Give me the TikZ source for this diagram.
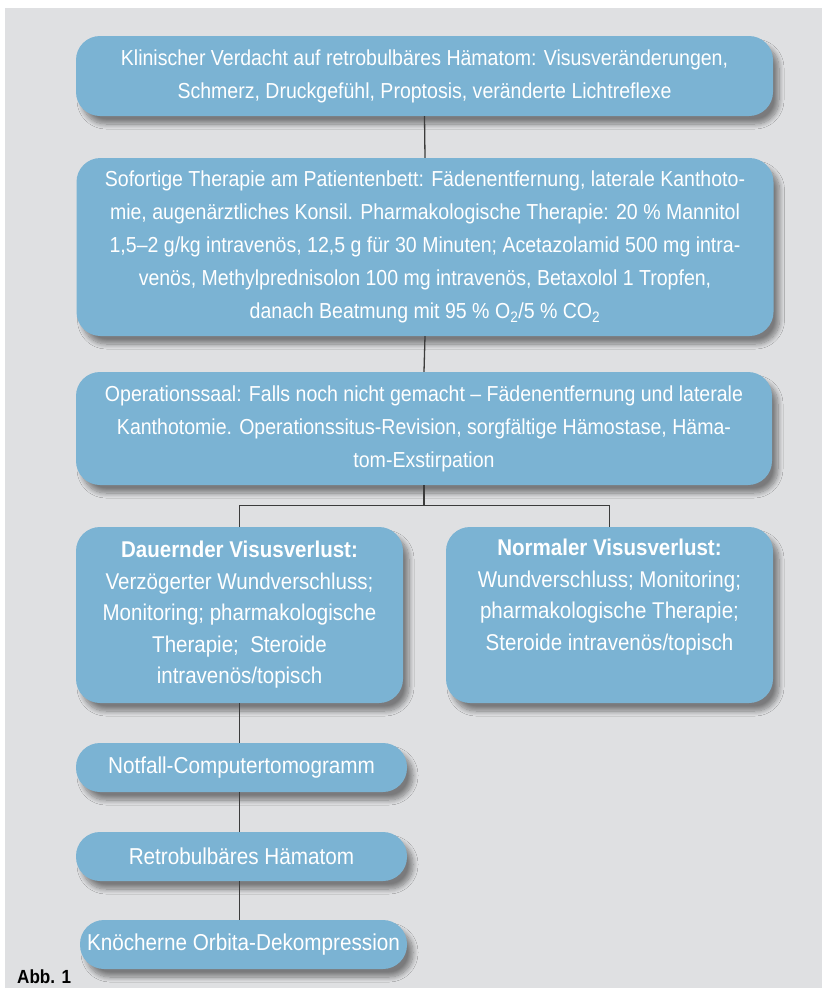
\documentclass[tikz,border=0pt]{standalone}
\usepackage{fontspec}
\setmainfont{Liberation Sans}[FakeStretch=0.9]
\usetikzlibrary{shadows.blur}
\definecolor{boxblue}{RGB}{123,179,211}
\definecolor{bggray}{RGB}{223,224,226}
\definecolor{linegray}{RGB}{60,60,60}
\tikzset{
  box/.style={fill=boxblue, text=white, rounded corners=24pt, align=center, inner sep=0pt,
    blur shadow={shadow xshift=6pt, shadow yshift=-8pt, shadow blur steps=10, shadow blur radius=5pt, shadow opacity=45}},
  bigtext/.style={font=\fontsize{21.7}{33}\selectfont},
  midtext/.style={font=\fontsize{22.8}{31.5}\selectfont},
  smalltext/.style={font=\fontsize{23}{30}\selectfont},
  conn/.style={draw=linegray, line width=1.3pt}
}
\begin{document}
\begin{tikzpicture}[x=1pt, y=-1pt]
\useasboundingbox (0,0) rectangle (822,988);
\fill[bggray] (5,8) rectangle (822,988);
\node[box, bigtext, minimum width=697pt, minimum height=80pt] (klin) at (424.5,76)
  {Klinischer Verdacht auf retrobulbäres Hämatom: Visusveränderungen,\\
   Schmerz, Druckgefühl, Proptosis, veränderte Lichtreflexe};
\node[box, bigtext, minimum width=697pt, minimum height=178pt] (sofort) at (425,247)
  {Sofortige Therapie am Patientenbett: Fädenentfernung, laterale Kanthoto-\\
   mie, augenärztliches Konsil. Pharmakologische Therapie: 20 \% Mannitol\\
   1,5--2 g/kg intravenös, 12,5 g für 30 Minuten; Acetazolamid 500 mg intra-\\
   venös, Methylprednisolon 100 mg intravenös, Betaxolol 1 Tropfen,\\
   danach Beatmung mit 95 \% O\textsubscript{2}/5 \% CO\textsubscript{2}};
\node[box, bigtext, minimum width=696pt, minimum height=113pt] (opsaal) at (424,428.5)
  {Operationssaal: Falls noch nicht gemacht -- Fädenentfernung und laterale\\
   Kanthotomie. Operationssitus-Revision, sorgfältige Hämostase, Häma-\\
   tom-Exstirpation};
\node[box, midtext, minimum width=327pt, minimum height=176pt] (dauernd) at (239.5,615)
  {\textbf{Dauernder Visusverlust:}\\
   Verzögerter Wundverschluss;\\
   Monitoring; pharmakologische\\
   Therapie;\ \ Steroide\\
   intravenös/topisch};
\node[box, midtext, minimum width=327pt, minimum height=176pt] (normal) at (609.5,615)
  {\textbf{Normaler Visusverlust:}\\
   Wundverschluss; Monitoring;\\
   pharmakologische Therapie;\\
   Steroide intravenös/topisch\\
   \strut};
\node[box, smalltext, minimum width=331pt, minimum height=49pt] (ct) at (241.5,767.5)
  {Notfall-Computertomogramm};
\node[box, smalltext, minimum width=331pt, minimum height=49pt] (haem) at (241.5,856.5)
  {Retrobulbäres Hämatom};
\node[box, smalltext, minimum width=327pt, minimum height=49pt] (dekomp) at (243.5,944.5)
  {Knöcherne Orbita-Dekompression};
\node[anchor=west, font=\fontsize{19}{20}\selectfont\bfseries, inner sep=0pt] (abb) at (17,977) {Abb. 1};
% Verbindungen
\draw[conn] (klin.south) -- (sofort.north);
\draw[conn] (sofort.south) -- (opsaal.north);
\draw[conn] (opsaal.south) -- ++(0,20) coordinate (split);
\draw[conn] (dauernd.north) |- (split) -| (normal.north);
\draw[conn] (dauernd.south) -- (dauernd.south |- ct.north);
\draw[conn] (dauernd.south |- ct.south) -- (dauernd.south |- haem.north);
\draw[conn] (dauernd.south |- haem.south) -- (dauernd.south |- dekomp.north);
\end{tikzpicture}
\end{document}
